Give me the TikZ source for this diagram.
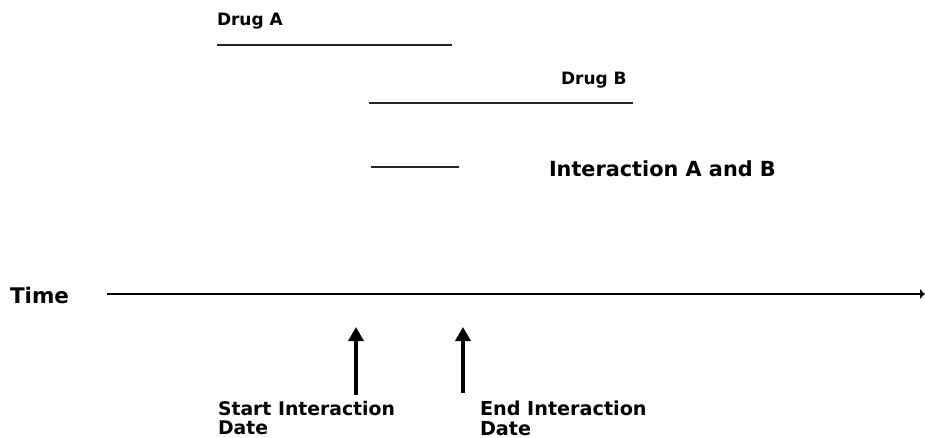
\documentclass[tikz,border=0pt]{standalone}
\usepackage{fontspec}
\setmainfont{DejaVu Sans}
\usetikzlibrary{arrows.meta}
\begin{document}
\begin{tikzpicture}[x=1pt,y=-1pt,
  lbl/.style={inner sep=0pt,outer sep=0pt,font=\bfseries},
  period/.style={draw=black!85,line width=1.8pt},
  axisline/.style={draw=black,line width=2pt,-{Latex[length=5pt,width=11pt]}},
  marker/.style={draw=black,line width=3.5pt,-{Triangle[length=14pt,width=15pt]}}]
\useasboundingbox[fill=white] (0,0) rectangle (925,438);
% labels
\node[lbl,anchor=base west,font=\fontsize{17}{20}\selectfont\bfseries] (drugA) at (217,26) {Drug A};
\node[lbl,anchor=base west,font=\fontsize{17}{20}\selectfont\bfseries] (drugB) at (561,85) {Drug B};
\node[lbl,anchor=base west,font=\fontsize{20.8}{24}\selectfont\bfseries] (inter) at (549,177) {Interaction A and B};
\node[lbl,anchor=base west,font=\fontsize{21.5}{24}\selectfont\bfseries] (time) at (10,303) {Time};
\node[lbl,anchor=north west,align=left,font=\fontsize{18.8}{19.5}\selectfont\bfseries] (start) at (218,401) {Start Interaction\\Date};
\node[lbl,anchor=north west,align=left,font=\fontsize{19.2}{19.5}\selectfont\bfseries] (end) at (480,401) {End Interaction\\Date};
% period lines
\coordinate (a1) at (217,45); \coordinate (a2) at (452,45);
\coordinate (b1) at (369,103); \coordinate (b2) at (633,103);
\coordinate (i1) at (371,167); \coordinate (i2) at (459,167);
\draw[period] (a1) -- (a2);
\draw[period] (b1) -- (b2);
\draw[period] (i1) -- (i2);
% time axis
\coordinate (t1) at (107,294); \coordinate (t2) at (925,294);
\draw[axisline] (t1) -- (t2);
% markers
\coordinate (s1) at (356,395); \coordinate (s2) at (356,327);
\coordinate (e1) at (463,393); \coordinate (e2) at (463,327);
\draw[marker] (s1) -- (s2);
\draw[marker] (e1) -- (e2);
\end{tikzpicture}
\end{document}
